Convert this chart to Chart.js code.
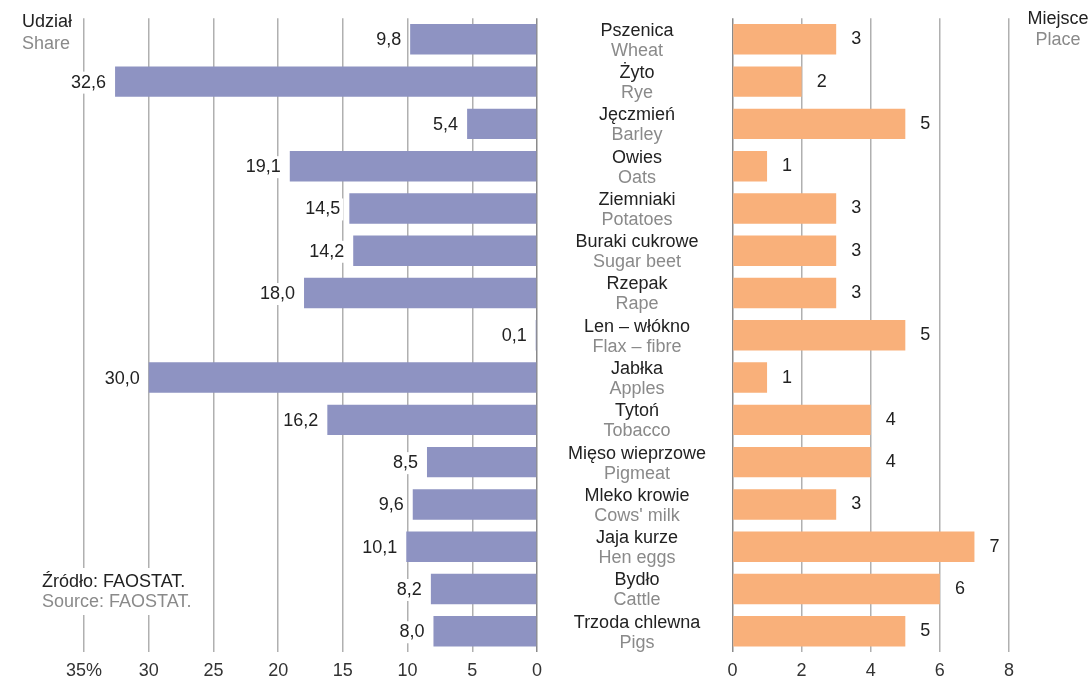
<!DOCTYPE html>
<html>
<head>
<meta charset="utf-8">
<script src="https://cdn.jsdelivr.net/npm/chart.js@4"></script>
<style>
  body { margin: 0; background: #fff; width: 1091px; height: 680px; overflow: hidden; position: relative; }
  #left { position: absolute; left: 0; top: 0; }
  #right { position: absolute; left: 700px; top: 0; }
</style>
</head>
<body>
<canvas id="left" width="730" height="680"></canvas>
<canvas id="right" width="391" height="680"></canvas>
<script>
const namesPl = ["Pszenica", "Żyto", "Jęczmień", "Owies", "Ziemniaki", "Buraki cukrowe", "Rzepak",
  "Len – włókno", "Jabłka", "Tytoń", "Mięso wieprzowe", "Mleko krowie", "Jaja kurze", "Bydło", "Trzoda chlewna"];
const namesEn = ["Wheat", "Rye", "Barley", "Oats", "Potatoes", "Sugar beet", "Rape",
  "Flax – fibre", "Apples", "Tobacco", "Pigmeat", "Cows' milk", "Hen eggs", "Cattle", "Pigs"];
const share = [9.8, 32.6, 5.4, 19.1, 14.5, 14.2, 18.0, 0.1, 30.0, 16.2, 8.5, 9.6, 10.1, 8.2, 8.0];
const place = [3, 2, 5, 1, 3, 3, 3, 5, 1, 4, 4, 3, 7, 6, 5];

const FONT = '"Liberation Sans", Arial, sans-serif';
const DARK = '#222';
const GREY = '#8a8a8a';

// gridline colour: zero line a bit darker
const gridColor = ctx => ctx.tick && ctx.tick.value === 0 ? '#8a8a8a' : '#b0b0b0';

function fitHeight(scale) { scale.height = 27.6; }

function textWithBg(ctx, text, x, y, align) {
  ctx.textAlign = align;
  ctx.textBaseline = 'middle';
  let w = ctx.measureText(text).width;
  let x0 = align === 'right' ? x - w : align === 'center' ? x - w / 2 : x;
  ctx.fillStyle = '#fff';
  ctx.fillRect(x0 - 3, y - 11, w + 6, 22);
  ctx.fillStyle = DARK;
  ctx.fillText(text, x, y);
}

const leftLabels = {
  id: 'leftLabels',
  afterDatasetsDraw(chart) {
    let ctx = chart.ctx;
    let meta = chart.getDatasetMeta(0);
    let yScale = chart.scales.y;
    ctx.save();
    ctx.font = '18px ' + FONT;
    meta.data.forEach((bar, i) => {
      textWithBg(ctx, share[i].toFixed(1).replace('.', ','), bar.x - 9, bar.y + 1, 'right');
    });

    // category names in the middle
    ctx.textAlign = 'center';
    ctx.textBaseline = 'middle';
    namesPl.forEach((n, i) => {
      let y = yScale.getPixelForValue(i);
      ctx.fillStyle = DARK;
      ctx.fillText(n, 637, y - 8.5);
      ctx.fillStyle = GREY;
      ctx.fillText(namesEn[i], 637, y + 11.5);
    });

    // title
    ctx.textAlign = 'left';
    ctx.fillStyle = DARK;
    ctx.fillText('Udział', 22, 22);
    ctx.fillStyle = GREY;
    ctx.fillText('Share', 22, 44);

    // source box
    ctx.fillStyle = '#fff';
    ctx.fillRect(38, 568, 156, 47);
    ctx.fillStyle = DARK;
    ctx.fillText('Źródło: FAOSTAT.', 42, 582);
    ctx.fillStyle = GREY;
    ctx.fillText('Source: FAOSTAT.', 42, 602);
    ctx.restore();
  }
};

const rightLabels = {
  id: 'rightLabels',
  afterDatasetsDraw(chart) {
    let ctx = chart.ctx;
    let meta = chart.getDatasetMeta(0);
    ctx.save();
    ctx.font = '18px ' + FONT;
    meta.data.forEach((bar, i) => {
      textWithBg(ctx, String(place[i]), bar.x + 15, bar.y, 'left');
    });
    ctx.textAlign = 'center';
    ctx.textBaseline = 'middle';
    ctx.fillStyle = DARK;
    ctx.fillText('Miejsce', 358, 19);
    ctx.fillStyle = GREY;
    ctx.fillText('Place', 358, 40);
    ctx.restore();
  }
};

const common = {
  indexAxis: 'y',
  responsive: false,
  animation: false,
  events: [],
  plugins: { legend: { display: false }, tooltip: { enabled: false } }
};

new Chart(document.getElementById('left'), {
  type: 'bar',
  data: {
    labels: namesPl,
    datasets: [{
      data: share,
      backgroundColor: '#8e93c2',
      categoryPercentage: 1,
      barPercentage: 0.72
    }]
  },
  options: {
    ...common,
    layout: { padding: { left: 84, right: 193, top: 18.2, bottom: 0 } },
    scales: {
      x: {
        reverse: true,
        min: 0, max: 35,
        afterFit: fitHeight,
        border: { display: false },
        grid: { color: gridColor, lineWidth: 1.5, drawTicks: false },
        ticks: {
          stepSize: 5, padding: 8, color: '#333',
          font: { size: 18, family: FONT },
          callback: v => v === 35 ? '35%' : v
        }
      },
      y: { display: false }
    }
  },
  plugins: [leftLabels]
});

new Chart(document.getElementById('right'), {
  type: 'bar',
  data: {
    labels: namesEn,
    datasets: [{
      data: place,
      backgroundColor: '#f9b07a',
      categoryPercentage: 1,
      barPercentage: 0.72
    }]
  },
  options: {
    ...common,
    layout: { padding: { left: 32.5, right: 82, top: 18.2, bottom: 0 } },
    scales: {
      x: {
        min: 0, max: 8,
        afterFit: fitHeight,
        border: { display: false },
        grid: { color: gridColor, lineWidth: 1.5, drawTicks: false },
        ticks: {
          stepSize: 2, padding: 8, color: '#333',
          font: { size: 18, family: FONT }
        }
      },
      y: { display: false }
    }
  },
  plugins: [rightLabels]
});
</script>
</body>
</html>
